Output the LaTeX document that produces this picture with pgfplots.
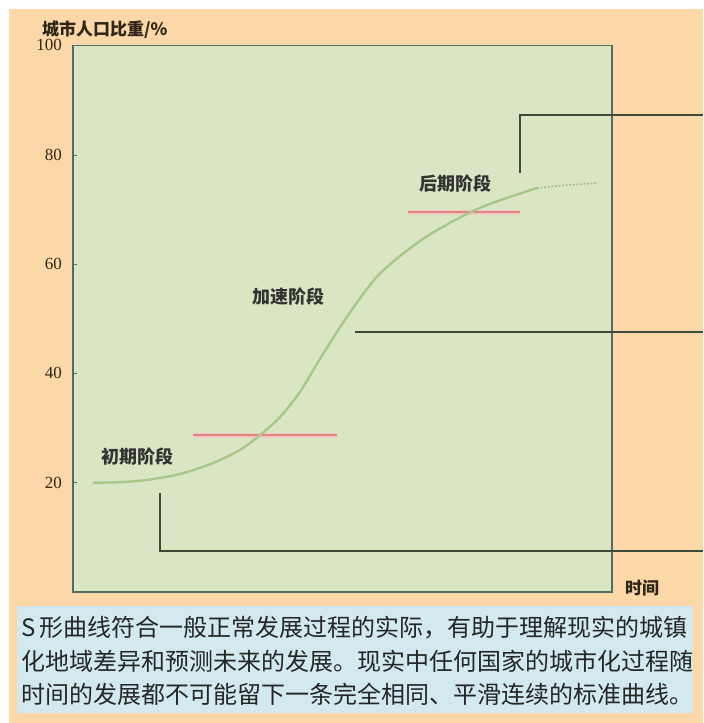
\documentclass[border=0pt]{standalone}
\usepackage{fontspec}
\setmainfont{Liberation Serif}
\newfontfamily\cjk{Noto Sans CJK SC}
\usepackage{pgfplots}
\pgfplotsset{compat=1.18}

\definecolor{pagebg}{HTML}{FCD8A8}
\definecolor{plotbg}{HTML}{DAE6C3}
\definecolor{capbg}{HTML}{D2E9EF}
\definecolor{frame}{HTML}{4E6E68}
\definecolor{curve}{HTML}{A6C888}
\definecolor{stage}{HTML}{E0867A}
\definecolor{guide}{HTML}{3C4A3A}
\definecolor{ink}{HTML}{2E2618}

\begin{document}
\begin{tikzpicture}
% page background and caption box, in pixel units of the reference
\begin{scope}[x=0.5pt,y=-0.5pt]
  \fill[white] (0,0) rectangle (703,723);
  \fill[pagebg] (9,9) rectangle (703,723);
  \fill[capbg] (17,606) rectangle (693,713);
  \begin{scope}[every node/.style={anchor=west,inner sep=0pt,font=\cjk\fontsize{12}{14}\selectfont,text=black!85}]
    \node at (21,628) {S\,形曲线符合一般正常发展过程的实际，有助于理解现实的城镇};
    \node at (21,661) {化地域差异和预测未来的发展。现实中任何国家的城市化过程随};
    \node at (21,694) {时间的发展都不可能留下一条完全相同、平滑连续的标准曲线。};
  \end{scope}
\end{scope}

\begin{axis}[
    at={(36.5pt,-296pt)}, anchor=south west,
    scale only axis,
    width=269.5pt, height=273.3pt,
    xmin=0, xmax=100, ymin=0, ymax=100,
    clip=false,
    axis background/.style={fill=plotbg},
    axis line style={draw=frame, line width=0.9pt},
    xtick=\empty,
    ytick={20,40,60,80,100},
    ytick pos=left,
    tick align=inside,
    major tick length=2pt,
    tick style={draw=frame},
    /pgf/number format/assume math mode=true,
    yticklabel style={font=\fontsize{8.5}{10}\selectfont, text=ink, xshift=-2pt},
    ylabel={城市人口比重/\%},
    ylabel style={rotate=-90, at={(axis cs:5.9,102.8)}, anchor=center,
        font=\cjk\bfseries\fontsize{8.5}{10}\selectfont, text=ink},
    xlabel={时间},
    xlabel style={at={(axis cs:105.6,0.7)}, anchor=center,
        font=\cjk\bfseries\fontsize{8.5}{10}\selectfont, text=ink},
]

% guide lines to the side notes
\addplot[guide, line width=0.8pt] coordinates {(16.1,18.1) (16.1,7.5) (116.9,7.5)};
\addplot[guide, line width=0.8pt] coordinates {(52.3,47.6) (116.9,47.6)};
\addplot[guide, line width=0.8pt] coordinates {(82.9,76.7) (82.9,87.3) (116.9,87.3)};

% stage boundaries
\addplot[stage!45, line width=2.6pt] coordinates {(22.3,28.7) (49.0,28.7)};
\addplot[stage, line width=1.1pt] coordinates {(22.3,28.7) (49.0,28.7)};
\addplot[stage!45, line width=2.6pt] coordinates {(62.2,69.5) (83.0,69.5)};
\addplot[stage, line width=1.1pt] coordinates {(62.2,69.5) (83.0,69.5)};

% S-curve
\addplot[curve, line width=1.2pt, smooth] coordinates {
    (3.7,20) (8.7,20.1) (13.7,20.5) (19.9,21.6) (26,23.6) (31,26)
    (34.7,28.7) (38.4,32) (42.1,36.6) (45.8,42.6) (49.5,48.4)
    (52.7,53.0) (56.4,57.7) (60.7,61.5) (65.7,65.1) (71.2,68.2)
    (75.8,70.4) (80.5,72.1) (86.1,73.9)
};
\addplot[curve!70!gray, line width=0.8pt, densely dotted, smooth] coordinates {
    (86.1,73.9) (91,74.4) (97.2,74.8)
};

\node[font=\cjk\bfseries\fontsize{9}{11}\selectfont, text=black!80] at (axis cs:11.9,24.7) {初期阶段};
\node[font=\cjk\bfseries\fontsize{9}{11}\selectfont, text=black!80] at (axis cs:39.9,54.0) {加速阶段};
\node[font=\cjk\bfseries\fontsize{9}{11}\selectfont, text=black!80] at (axis cs:70.9,74.7) {后期阶段};

\end{axis}
\end{tikzpicture}
\end{document}
